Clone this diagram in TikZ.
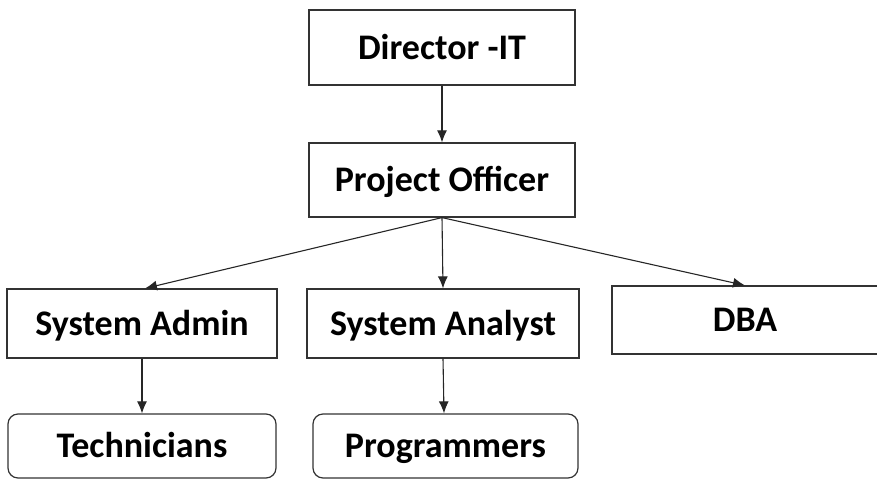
\documentclass[tikz,border=0pt]{standalone}
\usepackage{fontspec}
\setmainfont{Carlito}
\usetikzlibrary{arrows.meta}
\begin{document}
\begin{tikzpicture}[x=1pt,y=-1pt,
  role/.style={draw=black!80, line width=1.2pt, rectangle, inner sep=0pt,
    text height=23pt, text depth=0pt,
    font=\fontsize{36}{40}\selectfont\bfseries},
  leaf/.style={role, rounded corners=10pt},
  link/.style={draw=black!85, line width=1.1pt, -{Latex[length=12pt,width=10pt]}}]
\useasboundingbox (0,0) rectangle (877,479);
\node[role, minimum width=266pt, minimum height=75pt] (dir) at (442,47.5) {Director -IT};
\node[role, minimum width=266pt, minimum height=74pt] (po) at (442,180) {Project Officer};
\node[role, minimum width=270pt, minimum height=69pt] (sad) at (142,323.5) {System Admin};
\node[role, minimum width=272pt, minimum height=69pt] (san) at (443,323.5) {System Analyst};
\node[role, minimum width=266pt, minimum height=68pt] (dba) at (745,320) {DBA};
\node[leaf, minimum width=268pt, minimum height=64pt] (tech) at (142,446) {Technicians};
\node[leaf, minimum width=265pt, minimum height=64pt] (prog) at (445.5,446) {Programmers};
\draw[link] (dir) -- (po);
\draw[link] (po.south) -- ([xshift=3pt]sad.north);
\draw[link] (po.south) -- (san.north);
\draw[link] (po.south) -- (dba.north);
\draw[link] (sad) -- (tech);
\draw[link] (san.south) -- ([xshift=-1.5pt]prog.north);
\end{tikzpicture}
\end{document}
